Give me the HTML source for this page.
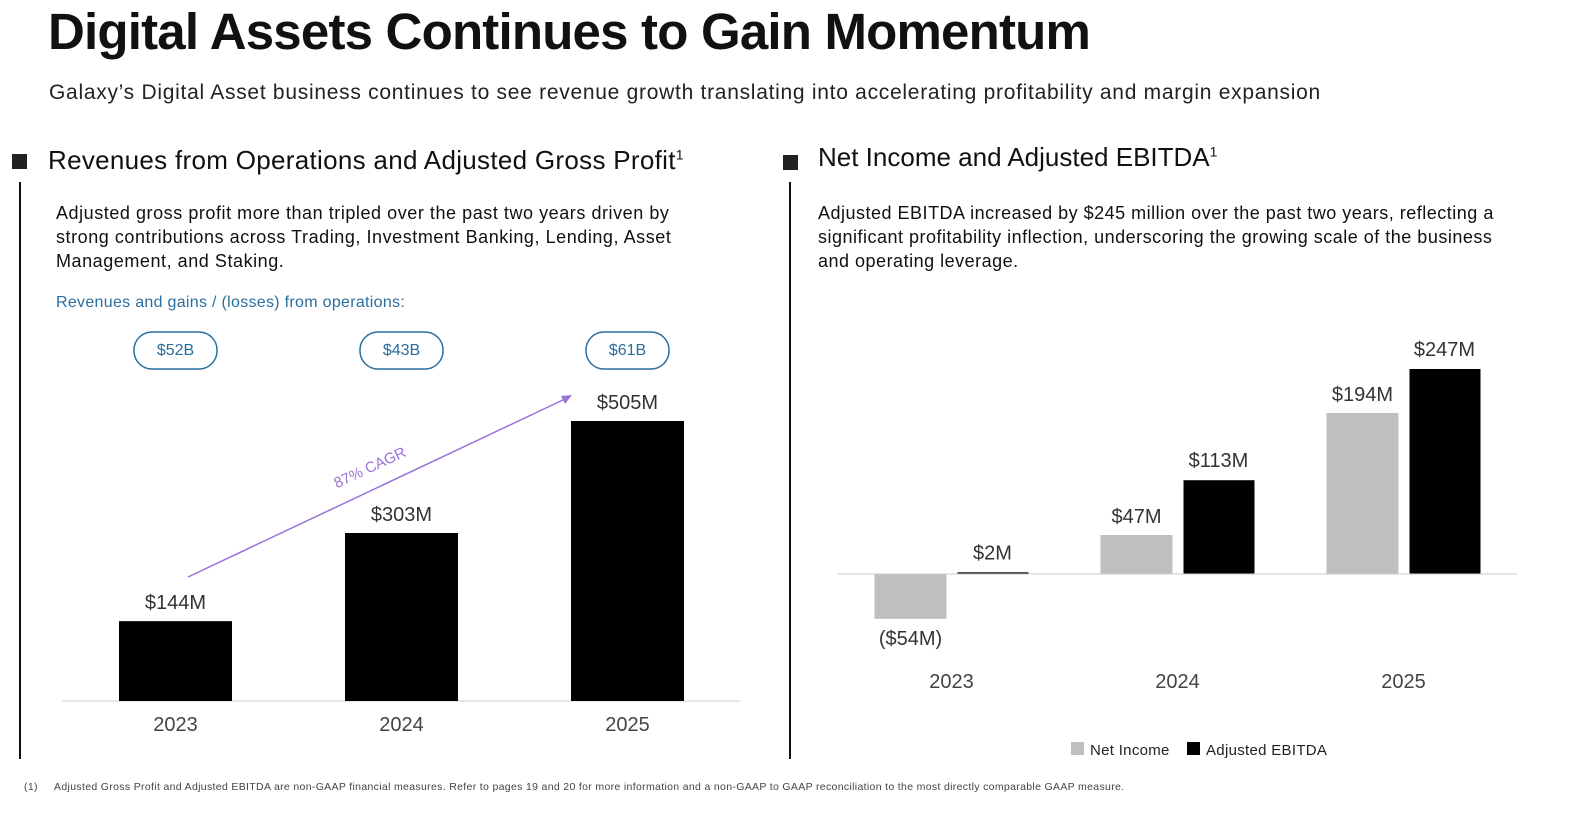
<!DOCTYPE html>
<html><head><meta charset="utf-8"><style>
body{margin:0;width:1569px;height:814px;background:#fff;font-family:"Liberation Sans",sans-serif;position:relative;overflow:hidden;color:#111}
.a{position:absolute}
</style></head><body>
<div class="a" style="left:48px;top:2px;font-size:51px;font-weight:bold;letter-spacing:-0.8px;color:#111">Digital Assets Continues to Gain Momentum</div>
<div class="a" style="left:49px;top:81px;font-size:21px;letter-spacing:0.72px;color:#222">Galaxy’s Digital Asset business continues to see revenue growth translating into accelerating profitability and margin expansion</div>
<div class="a" style="left:12px;top:154px;width:15px;height:15px;background:#222"></div>
<div class="a" style="left:48px;top:145px;font-size:26px;letter-spacing:0.3px">Revenues from Operations and Adjusted Gross Profit<sup style="font-size:14px">1</sup></div>
<div class="a" style="left:19px;top:182px;width:2px;height:577px;background:#111"></div>
<div class="a" style="left:56px;top:201px;width:650px;font-size:18px;line-height:24px;letter-spacing:0.55px;color:#111">Adjusted gross profit more than tripled over the past two years driven by strong contributions across Trading, Investment Banking, Lending, Asset Management, and Staking.</div>
<div class="a" style="left:56px;top:294px;font-size:16px;letter-spacing:0.3px;color:#2a6e9e">Revenues and gains / (losses) from operations:</div>
<div class="a" style="left:783px;top:155px;width:15px;height:15px;background:#222"></div>
<div class="a" style="left:818px;top:142px;font-size:26px;letter-spacing:0px">Net Income and Adjusted EBITDA<sup style="font-size:14px">1</sup></div>
<div class="a" style="left:789px;top:182px;width:2px;height:577px;background:#111"></div>
<div class="a" style="left:818px;top:201px;width:710px;font-size:18px;line-height:24px;letter-spacing:0.5px;color:#111">Adjusted EBITDA increased by $245 million over the past two years, reflecting a significant profitability inflection, underscoring the growing scale of the business and operating leverage.</div>
<div class="a" style="left:24px;top:781px;font-size:10.5px;letter-spacing:0.33px;color:#444">(1)&nbsp;&nbsp;&nbsp;&nbsp;&nbsp;Adjusted Gross Profit and Adjusted EBITDA are non-GAAP financial measures. Refer to pages 19 and 20 for more information and a non-GAAP to GAAP reconciliation to the most directly comparable GAAP measure.</div>
<svg class="a" style="left:0;top:0" width="1569" height="814" id="svg"></svg>
<script>
const leftYears=["2023","2024","2025"];
const grossProfit=[144,303,505];
const grossLabels=["$144M","$303M","$505M"];
const volumes=["$52B","$43B","$61B"];
const rightYears=["2023","2024","2025"];
const netIncome=[-54,47,194];
const ebitda=[2,113,247];
const netLabels=["($54M)","$47M","$194M"];
const ebitdaLabels=["$2M","$113M","$247M"];
const NS="http://www.w3.org/2000/svg";
const svg=document.getElementById('svg');
function mk(t,a,txt){const e=document.createElementNS(NS,t);for(const k in a)e.setAttribute(k,a[k]);if(txt!=null)e.textContent=txt;svg.appendChild(e);return e;}
const lBase=701,lScale=280/505;
const ly=v=>lBase-v*lScale;
const lx=i=>175.5+i*226;
let e=mk('line',{x1:62,x2:740,y1:lBase,y2:lBase,stroke:'#ccc','stroke-width':1});

leftYears.forEach((y,i)=>{
 let b=mk('rect',{x:lx(i)-56.5,y:ly(grossProfit[i]),width:113,height:grossProfit[i]*lScale,fill:'#000'});
 
 let t=mk('text',{x:lx(i),y:ly(grossProfit[i])-12,'text-anchor':'middle','font-size':20,fill:'#333'},grossLabels[i]);
 
 let x=mk('text',{x:lx(i),y:731,'text-anchor':'middle','font-size':20,fill:'#444'},y);
 
 let p=mk('rect',{x:lx(i)-41.5,y:332,width:83,height:37,rx:18,fill:'none',stroke:'#2a6e9e','stroke-width':1.5});
 
 let pt=mk('text',{x:lx(i),y:355,'text-anchor':'middle','font-size':16,fill:'#2a6e9e'},volumes[i]);
 
});
let ar=mk('line',{x1:188,y1:577,x2:565,y2:399,stroke:'#9b72d9','stroke-width':1.5});

let ah=mk('polygon',{points:'572,395 561,396 565,404',fill:'#9b72d9'});

let cg=mk('text',{x:372,y:472,'text-anchor':'middle','font-size':15,fill:'#9b72d9',transform:'rotate(-25 372 472)'},'87% CAGR');

const rZero=574,rScale=205/247;
const ry=v=>rZero-v*rScale;
const rc=i=>951.5+i*226;
leftYears.forEach((y,i)=>{
 const n=netIncome[i],m=ebitda[i];
 let b1=mk('rect',{x:rc(i)-77,y:Math.min(ry(n),rZero),width:72,height:Math.abs(n)*rScale,fill:'#bfbfbf'});
 
 let b2=mk('rect',{x:rc(i)+6,y:Math.min(ry(m),rZero),width:71,height:Math.max(Math.abs(m)*rScale,1.5),fill:'#000'});
 
 let t1=mk('text',{x:rc(i)-41,y:n<0?ry(n)+26:ry(n)-12,'text-anchor':'middle','font-size':20,fill:'#333'},netLabels[i]);
 
 let t2=mk('text',{x:rc(i)+41,y:ry(m)-13,'text-anchor':'middle','font-size':20,fill:'#333'},ebitdaLabels[i]);
 
 let x=mk('text',{x:rc(i),y:688,'text-anchor':'middle','font-size':20,fill:'#444'},rightYears[i]);
 
});
e=mk('line',{x1:837,x2:1517,y1:rZero,y2:rZero,stroke:'#ccc','stroke-width':1});

let l1=mk('rect',{x:1071,y:742,width:13,height:13,fill:'#bfbfbf'});

let l1t=mk('text',{x:1090,y:755,'font-size':15,fill:'#222','letter-spacing':0.3},'Net Income');

let l2=mk('rect',{x:1187,y:742,width:13,height:13,fill:'#000'});

let l2t=mk('text',{x:1206,y:755,'font-size':15,fill:'#222','letter-spacing':0.3},'Adjusted EBITDA');

</script>
</body></html>
